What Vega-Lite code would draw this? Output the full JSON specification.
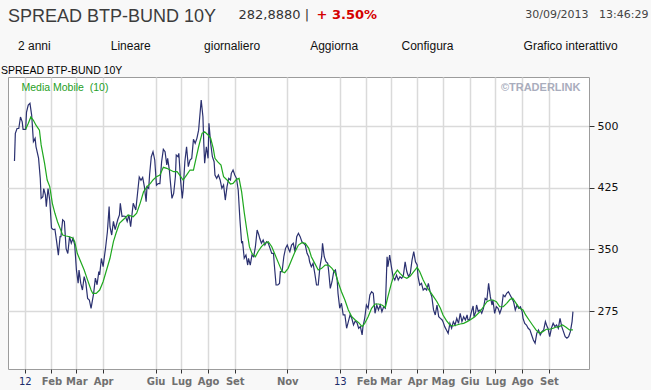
{
"$schema": "https://vega.github.io/schema/vega-lite/v6.json",
"width": 581, "height": 292,
"autosize": "none",
"padding": {"left": 8, "top": 77, "right": 62, "bottom": 21},
"background": "#f8f8f8",
"title": {
  "text": "SPREAD BTP-BUND 10Y",
  "subtitle": "\u200b\u00a0\u00a0\u00a02 anni\u00a0\u00a0\u00a0\u00a0\u00a0\u00a0\u00a0\u00a0\u00a0\u00a0\u00a0\u00a0\u00a0\u00a0\u00a0\u00a0\u00a0\u00a0Lineare\u00a0\u00a0\u00a0\u00a0\u00a0\u00a0\u00a0\u00a0\u00a0\u00a0\u00a0\u00a0\u00a0\u00a0\u00a0\u00a0giornaliero\u00a0\u00a0\u00a0\u00a0\u00a0\u00a0\u00a0\u00a0\u00a0\u00a0\u00a0\u00a0\u00a0\u00a0\u00a0Aggiorna\u00a0\u00a0\u00a0\u00a0\u00a0\u00a0\u00a0\u00a0\u00a0\u00a0\u00a0\u00a0\u00a0Configura\u00a0\u00a0\u00a0\u00a0\u00a0\u00a0\u00a0\u00a0\u00a0\u00a0\u00a0\u00a0\u00a0\u00a0\u00a0\u00a0\u00a0\u00a0\u00a0\u00a0\u00a0Grafico interattivo",
  "anchor": "start", "frame": "group", "orient": "top",
  "font": "Liberation Sans", "fontSize": 18, "fontWeight": "normal", "color": "#3c3c3c",
  "subtitleFont": "Liberation Sans", "subtitleFontSize": 12, "subtitleColor": "#111111",
  "subtitlePadding": 15, "offset": -44
},
"datasets": {
"price": [
{"d":"2011-12-20","v":457.5},{"d":"2011-12-21","v":491},{"d":"2011-12-23","v":497},{"d":"2011-12-25","v":497},{"d":"2011-12-27","v":511},{"d":"2011-12-29","v":505},{"d":"2011-12-30","v":496},
{"d":"2012-01-02","v":496},{"d":"2012-01-03","v":517},{"d":"2012-01-05","v":525.5},{"d":"2012-01-07","v":527.6},{"d":"2012-01-09","v":513},{"d":"2012-01-11","v":481},{"d":"2012-01-13","v":485},{"d":"2012-01-14","v":475},{"d":"2012-01-17","v":461},{"d":"2012-01-19","v":436},{"d":"2012-01-20","v":412},{"d":"2012-01-22","v":414},{"d":"2012-01-23","v":424},{"d":"2012-01-25","v":416},{"d":"2012-01-26","v":402},{"d":"2012-01-28","v":424},{"d":"2012-01-30","v":410},
{"d":"2012-02-01","v":376},{"d":"2012-02-03","v":374},{"d":"2012-02-05","v":374.5},{"d":"2012-02-07","v":359.5},{"d":"2012-02-09","v":343},{"d":"2012-02-11","v":365.5},{"d":"2012-02-12","v":365.5},{"d":"2012-02-14","v":386},{"d":"2012-02-16","v":384},{"d":"2012-02-18","v":351},{"d":"2012-02-20","v":345},{"d":"2012-02-22","v":365.5},{"d":"2012-02-24","v":357.5},{"d":"2012-02-26","v":363.5},{"d":"2012-02-28","v":355.5},
{"d":"2012-03-01","v":325},{"d":"2012-03-03","v":309},{"d":"2012-03-04","v":325},{"d":"2012-03-06","v":309},{"d":"2012-03-08","v":300.6},{"d":"2012-03-10","v":317},{"d":"2012-03-12","v":309},{"d":"2012-03-14","v":290.5},{"d":"2012-03-16","v":288.5},{"d":"2012-03-18","v":278.4},{"d":"2012-03-21","v":296.6},{"d":"2012-03-23","v":315},{"d":"2012-03-25","v":307},{"d":"2012-03-27","v":323},{"d":"2012-03-28","v":319},{"d":"2012-03-30","v":339},
{"d":"2012-04-01","v":329},{"d":"2012-04-04","v":353},{"d":"2012-04-06","v":371.5},{"d":"2012-04-08","v":402},{"d":"2012-04-09","v":377.6},{"d":"2012-04-11","v":367.5},{"d":"2012-04-13","v":384},{"d":"2012-04-15","v":374},{"d":"2012-04-18","v":386},{"d":"2012-04-20","v":392},{"d":"2012-04-21","v":406},{"d":"2012-04-23","v":390},{"d":"2012-04-25","v":390.6},{"d":"2012-04-27","v":390},{"d":"2012-04-29","v":384},
{"d":"2012-05-01","v":392},{"d":"2012-05-03","v":377.6},{"d":"2012-05-06","v":406},{"d":"2012-05-09","v":398},{"d":"2012-05-11","v":418},{"d":"2012-05-13","v":438},{"d":"2012-05-15","v":434},{"d":"2012-05-17","v":437.6},{"d":"2012-05-19","v":426},{"d":"2012-05-21","v":408},{"d":"2012-05-22","v":426},{"d":"2012-05-24","v":424},{"d":"2012-05-25","v":440.4},{"d":"2012-05-27","v":462.7},{"d":"2012-05-29","v":468.8},{"d":"2012-05-31","v":458.7},
{"d":"2012-06-02","v":428},{"d":"2012-06-04","v":430},{"d":"2012-06-06","v":430},{"d":"2012-06-08","v":456.6},{"d":"2012-06-10","v":471.6},{"d":"2012-06-12","v":468.8},{"d":"2012-06-14","v":452.6},{"d":"2012-06-15","v":460.7},{"d":"2012-06-17","v":446.5},{"d":"2012-06-18","v":434.4},{"d":"2012-06-20","v":412},{"d":"2012-06-22","v":418},{"d":"2012-06-24","v":438.4},{"d":"2012-06-25","v":464.7},{"d":"2012-06-27","v":462.7},{"d":"2012-06-28","v":466.8},{"d":"2012-06-30","v":434.4},
{"d":"2012-07-02","v":412},{"d":"2012-07-03","v":422.2},{"d":"2012-07-05","v":456.6},{"d":"2012-07-07","v":474.8},{"d":"2012-07-09","v":450.6},{"d":"2012-07-11","v":458.7},{"d":"2012-07-13","v":460.7},{"d":"2012-07-15","v":483.8},{"d":"2012-07-17","v":479},{"d":"2012-07-19","v":485},{"d":"2012-07-21","v":495},{"d":"2012-07-23","v":519.4},{"d":"2012-07-24","v":531.6},{"d":"2012-07-26","v":511.3},{"d":"2012-07-27","v":479},{"d":"2012-07-28","v":454.7},{"d":"2012-07-30","v":474.8},
{"d":"2012-08-01","v":460.7},{"d":"2012-08-02","v":503.3},{"d":"2012-08-04","v":479},{"d":"2012-08-06","v":462.7},{"d":"2012-08-08","v":456.6},{"d":"2012-08-09","v":440.4},{"d":"2012-08-11","v":436.4},{"d":"2012-08-13","v":440.4},{"d":"2012-08-15","v":434.4},{"d":"2012-08-17","v":424.3},{"d":"2012-08-19","v":428.3},{"d":"2012-08-21","v":410},{"d":"2012-08-23","v":426.3},{"d":"2012-08-25","v":436.4},{"d":"2012-08-27","v":434.4},{"d":"2012-08-28","v":442.5},{"d":"2012-08-30","v":446.5},
{"d":"2012-09-01","v":440.4},{"d":"2012-09-03","v":436.4},{"d":"2012-09-05","v":422.2},{"d":"2012-09-07","v":386},{"d":"2012-09-09","v":357.4},{"d":"2012-09-10","v":360},{"d":"2012-09-12","v":339.2},{"d":"2012-09-14","v":343.2},{"d":"2012-09-16","v":331},{"d":"2012-09-17","v":339.2},{"d":"2012-09-19","v":331},{"d":"2012-09-21","v":343.2},{"d":"2012-09-23","v":341.1},{"d":"2012-09-25","v":353.3},{"d":"2012-09-27","v":373.6},{"d":"2012-09-29","v":367.5},{"d":"2012-09-30","v":363.5},
{"d":"2012-10-02","v":357.4},{"d":"2012-10-04","v":361.4},{"d":"2012-10-06","v":355.3},{"d":"2012-10-08","v":359.4},{"d":"2012-10-10","v":357.4},{"d":"2012-10-12","v":351.3},{"d":"2012-10-14","v":345.2},{"d":"2012-10-16","v":345.2},{"d":"2012-10-17","v":331},{"d":"2012-10-19","v":306.7},{"d":"2012-10-21","v":306.7},{"d":"2012-10-23","v":308.7},{"d":"2012-10-24","v":323},{"d":"2012-10-26","v":323},{"d":"2012-10-28","v":341.1},{"d":"2012-10-30","v":351.3},
{"d":"2012-11-01","v":355.3},{"d":"2012-11-03","v":349.3},{"d":"2012-11-04","v":347.2},{"d":"2012-11-06","v":355.3},{"d":"2012-11-08","v":357.4},{"d":"2012-11-10","v":347.2},{"d":"2012-11-12","v":365.5},{"d":"2012-11-14","v":369.6},{"d":"2012-11-16","v":365.5},{"d":"2012-11-18","v":359.4},{"d":"2012-11-20","v":357.4},{"d":"2012-11-22","v":355.3},{"d":"2012-11-24","v":345.2},{"d":"2012-11-26","v":341.1},{"d":"2012-11-27","v":335},{"d":"2012-11-29","v":329},
{"d":"2012-12-01","v":333},{"d":"2012-12-03","v":320.9},{"d":"2012-12-05","v":306.7},{"d":"2012-12-07","v":306.7},{"d":"2012-12-09","v":329},{"d":"2012-12-11","v":341.1},{"d":"2012-12-12","v":357.4},{"d":"2012-12-14","v":341.1},{"d":"2012-12-16","v":335},{"d":"2012-12-18","v":333},{"d":"2012-12-19","v":324.9},{"d":"2012-12-21","v":302.6},{"d":"2012-12-23","v":310.7},{"d":"2012-12-25","v":323},{"d":"2012-12-27","v":324.9},{"d":"2012-12-29","v":312.7},{"d":"2012-12-30","v":296.6},
{"d":"2013-01-01","v":278.4},{"d":"2013-01-03","v":284.5},{"d":"2013-01-05","v":270.3},{"d":"2013-01-07","v":270.3},{"d":"2013-01-09","v":254.1},{"d":"2013-01-11","v":262.2},{"d":"2013-01-13","v":270.3},{"d":"2013-01-15","v":266.2},{"d":"2013-01-17","v":258.1},{"d":"2013-01-19","v":263},{"d":"2013-01-21","v":261},{"d":"2013-01-23","v":254.1},{"d":"2013-01-25","v":256.1},{"d":"2013-01-27","v":246},{"d":"2013-01-28","v":256.1},{"d":"2013-01-30","v":266.2},
{"d":"2013-02-01","v":282.4},{"d":"2013-02-03","v":278.4},{"d":"2013-02-05","v":294.6},{"d":"2013-02-07","v":298.6},{"d":"2013-02-09","v":296.6},{"d":"2013-02-11","v":272.3},{"d":"2013-02-13","v":282.4},{"d":"2013-02-15","v":276.4},{"d":"2013-02-17","v":282.4},{"d":"2013-02-19","v":274.2},{"d":"2013-02-21","v":280.3},{"d":"2013-02-23","v":278.4},{"d":"2013-02-25","v":341.1},{"d":"2013-02-26","v":329},{"d":"2013-02-28","v":343.2},
{"d":"2013-03-02","v":329},{"d":"2013-03-04","v":316.8},{"d":"2013-03-06","v":312.7},{"d":"2013-03-08","v":318.8},{"d":"2013-03-10","v":312.7},{"d":"2013-03-12","v":316.8},{"d":"2013-03-14","v":314.8},{"d":"2013-03-16","v":318.8},{"d":"2013-03-18","v":334.9},{"d":"2013-03-20","v":322.8},{"d":"2013-03-22","v":316.8},{"d":"2013-03-24","v":320.9},{"d":"2013-03-26","v":337},{"d":"2013-03-28","v":347.2},{"d":"2013-03-30","v":334.9},
{"d":"2013-04-01","v":331},{"d":"2013-04-02","v":316.8},{"d":"2013-04-04","v":306.7},{"d":"2013-04-06","v":308.7},{"d":"2013-04-08","v":300.6},{"d":"2013-04-10","v":302.6},{"d":"2013-04-12","v":300.6},{"d":"2013-04-14","v":308.7},{"d":"2013-04-16","v":298.6},{"d":"2013-04-18","v":292.5},{"d":"2013-04-20","v":276.4},{"d":"2013-04-22","v":270.3},{"d":"2013-04-24","v":282.4},{"d":"2013-04-26","v":268.2},{"d":"2013-04-28","v":266.2},{"d":"2013-04-30","v":264.2},
{"d":"2013-05-01","v":262.2},{"d":"2013-05-03","v":256.1},{"d":"2013-05-05","v":252.1},{"d":"2013-05-07","v":248},{"d":"2013-05-09","v":260.1},{"d":"2013-05-11","v":254.1},{"d":"2013-05-13","v":262.2},{"d":"2013-05-15","v":258.1},{"d":"2013-05-17","v":266.2},{"d":"2013-05-19","v":260.1},{"d":"2013-05-21","v":272.3},{"d":"2013-05-23","v":262.2},{"d":"2013-05-25","v":268.2},{"d":"2013-05-27","v":264.2},{"d":"2013-05-29","v":270.3},{"d":"2013-05-30","v":264.2},
{"d":"2013-06-01","v":265},{"d":"2013-06-03","v":274},{"d":"2013-06-05","v":281.2},{"d":"2013-06-06","v":268.2},{"d":"2013-06-08","v":274.3},{"d":"2013-06-09","v":282.4},{"d":"2013-06-11","v":274.3},{"d":"2013-06-13","v":276.4},{"d":"2013-06-15","v":272.3},{"d":"2013-06-17","v":278.4},{"d":"2013-06-19","v":290.5},{"d":"2013-06-21","v":288.5},{"d":"2013-06-23","v":308.7},{"d":"2013-06-25","v":292.5},{"d":"2013-06-27","v":282.4},{"d":"2013-06-28","v":288.5},{"d":"2013-06-30","v":272.3},
{"d":"2013-07-02","v":280.3},{"d":"2013-07-04","v":278.4},{"d":"2013-07-06","v":272.3},{"d":"2013-07-08","v":278.4},{"d":"2013-07-10","v":294.6},{"d":"2013-07-12","v":292.5},{"d":"2013-07-14","v":296.6},{"d":"2013-07-16","v":298.6},{"d":"2013-07-18","v":294.6},{"d":"2013-07-20","v":290.5},{"d":"2013-07-22","v":286.4},{"d":"2013-07-24","v":276.4},{"d":"2013-07-26","v":282.4},{"d":"2013-07-28","v":278.4},{"d":"2013-07-30","v":280.3},
{"d":"2013-08-01","v":274.3},{"d":"2013-08-02","v":266.2},{"d":"2013-08-04","v":260.1},{"d":"2013-08-06","v":258.1},{"d":"2013-08-08","v":254.1},{"d":"2013-08-10","v":252.1},{"d":"2013-08-12","v":246},{"d":"2013-08-14","v":239.9},{"d":"2013-08-16","v":235.9},{"d":"2013-08-18","v":248},{"d":"2013-08-20","v":252.1},{"d":"2013-08-22","v":246},{"d":"2013-08-24","v":250},{"d":"2013-08-26","v":252.1},{"d":"2013-08-28","v":262.2},{"d":"2013-08-30","v":256.1},{"d":"2013-08-31","v":254.1},
{"d":"2013-09-02","v":244},{"d":"2013-09-04","v":254.1},{"d":"2013-09-06","v":260.1},{"d":"2013-09-08","v":256.1},{"d":"2013-09-10","v":258.1},{"d":"2013-09-12","v":254.1},{"d":"2013-09-14","v":266.2},{"d":"2013-09-16","v":256.1},{"d":"2013-09-18","v":250},{"d":"2013-09-20","v":244},{"d":"2013-09-22","v":242},{"d":"2013-09-24","v":244},{"d":"2013-09-26","v":250},{"d":"2013-09-28","v":262.2},{"d":"2013-09-29","v":274.3}
],
"ma": [
{"d":"2012-01-02","v":496},{"d":"2012-01-05","v":503},{"d":"2012-01-08","v":511},{"d":"2012-01-11","v":507},{"d":"2012-01-14","v":501},{"d":"2012-01-18","v":495},{"d":"2012-01-20","v":477},{"d":"2012-01-24","v":454.7},{"d":"2012-01-27","v":434.4},{"d":"2012-01-30","v":426.3},
{"d":"2012-02-02","v":406},{"d":"2012-02-05","v":393.9},{"d":"2012-02-08","v":383.7},{"d":"2012-02-11","v":375.6},{"d":"2012-02-14","v":367.5},{"d":"2012-02-18","v":366.3},{"d":"2012-02-22","v":365.4},{"d":"2012-02-26","v":363.5},{"d":"2012-02-28","v":359.4},
{"d":"2012-03-02","v":345.2},{"d":"2012-03-06","v":335},{"d":"2012-03-10","v":325},{"d":"2012-03-14","v":312.7},{"d":"2012-03-18","v":300.6},{"d":"2012-03-20","v":296.5},{"d":"2012-03-24","v":296.5},{"d":"2012-03-28","v":300.6},
{"d":"2012-04-01","v":310.7},{"d":"2012-04-05","v":325},{"d":"2012-04-09","v":339.2},{"d":"2012-04-13","v":359.4},{"d":"2012-04-16","v":369.6},{"d":"2012-04-20","v":381.7},{"d":"2012-04-24","v":385.7},{"d":"2012-04-28","v":389.7},{"d":"2012-04-30","v":391.8},
{"d":"2012-05-06","v":389.7},{"d":"2012-05-10","v":393.9},{"d":"2012-05-14","v":406},{"d":"2012-05-18","v":420.1},{"d":"2012-05-22","v":426.3},{"d":"2012-05-26","v":430.3},{"d":"2012-05-29","v":434.4},
{"d":"2012-06-02","v":438.4},{"d":"2012-06-06","v":440.4},{"d":"2012-06-10","v":449.8},{"d":"2012-06-14","v":448.6},{"d":"2012-06-18","v":446.5},{"d":"2012-06-22","v":444.5},{"d":"2012-06-26","v":444.5},{"d":"2012-06-29","v":440.4},
{"d":"2012-07-03","v":434.4},{"d":"2012-07-07","v":440.4},{"d":"2012-07-11","v":446.5},{"d":"2012-07-15","v":446.5},{"d":"2012-07-18","v":460.7},{"d":"2012-07-21","v":474.8},{"d":"2012-07-25","v":491.1},{"d":"2012-07-28","v":493.1},
{"d":"2012-08-01","v":489.1},{"d":"2012-08-04","v":485},{"d":"2012-08-07","v":472.9},{"d":"2012-08-09","v":460.7},{"d":"2012-08-12","v":456.6},{"d":"2012-08-16","v":452.6},{"d":"2012-08-19","v":438.4},{"d":"2012-08-23","v":434.4},{"d":"2012-08-27","v":429.5},{"d":"2012-08-30","v":430.3},
{"d":"2012-09-03","v":435.2},{"d":"2012-09-06","v":436.4},{"d":"2012-09-09","v":420},{"d":"2012-09-12","v":395},{"d":"2012-09-15","v":373.6},{"d":"2012-09-18","v":353.3},{"d":"2012-09-21","v":345.2},{"d":"2012-09-25","v":341.1},{"d":"2012-09-28","v":347.2},
{"d":"2012-10-02","v":353.3},{"d":"2012-10-06","v":357.4},{"d":"2012-10-10","v":359.4},{"d":"2012-10-14","v":353.3},{"d":"2012-10-18","v":343.2},{"d":"2012-10-22","v":333},{"d":"2012-10-26","v":323},{"d":"2012-10-29","v":321.7},
{"d":"2012-11-02","v":327},{"d":"2012-11-06","v":337.1},{"d":"2012-11-10","v":347.2},{"d":"2012-11-14","v":355.3},{"d":"2012-11-18","v":358.2},{"d":"2012-11-22","v":357.4},{"d":"2012-11-26","v":351.3},{"d":"2012-11-29","v":341.1},
{"d":"2012-12-03","v":333},{"d":"2012-12-07","v":324.9},{"d":"2012-12-11","v":327},{"d":"2012-12-15","v":331},{"d":"2012-12-19","v":331},{"d":"2012-12-23","v":327},{"d":"2012-12-27","v":320.9},{"d":"2012-12-30","v":310.7},
{"d":"2013-01-03","v":298.6},{"d":"2013-01-07","v":288.5},{"d":"2013-01-11","v":276.4},{"d":"2013-01-15","v":268.2},{"d":"2013-01-19","v":264.2},{"d":"2013-01-23","v":261},{"d":"2013-01-27","v":256.1},{"d":"2013-01-30","v":260.1},
{"d":"2013-02-03","v":268.2},{"d":"2013-02-07","v":278.4},{"d":"2013-02-11","v":283.6},{"d":"2013-02-15","v":283.6},{"d":"2013-02-19","v":282.4},{"d":"2013-02-23","v":279.5},{"d":"2013-02-26","v":292.5},
{"d":"2013-03-02","v":308.7},{"d":"2013-03-05","v":318.8},{"d":"2013-03-09","v":324.9},{"d":"2013-03-12","v":320.9},{"d":"2013-03-16","v":316.8},{"d":"2013-03-20","v":314.8},{"d":"2013-03-24","v":317.6},{"d":"2013-03-28","v":322.9},
{"d":"2013-04-01","v":328.2},{"d":"2013-04-04","v":322.9},{"d":"2013-04-08","v":312.7},{"d":"2013-04-12","v":304.6},{"d":"2013-04-16","v":298.6},{"d":"2013-04-20","v":292.5},{"d":"2013-04-24","v":286.4},{"d":"2013-04-28","v":278.4},
{"d":"2013-05-01","v":270.3},{"d":"2013-05-05","v":263.4},{"d":"2013-05-09","v":258.1},{"d":"2013-05-13","v":256.9},{"d":"2013-05-17","v":258.1},{"d":"2013-05-21","v":259.3},{"d":"2013-05-25","v":260.1},{"d":"2013-05-29","v":262.2},
{"d":"2013-06-01","v":263.8},{"d":"2013-06-07","v":268.2},{"d":"2013-06-13","v":274.3},{"d":"2013-06-17","v":280.3},{"d":"2013-06-21","v":286.4},{"d":"2013-06-25","v":288.5},{"d":"2013-06-28","v":288.5},
{"d":"2013-07-02","v":286.4},{"d":"2013-07-06","v":280.3},{"d":"2013-07-10","v":280.3},{"d":"2013-07-14","v":284.4},{"d":"2013-07-18","v":289.3},{"d":"2013-07-21","v":290.5},{"d":"2013-07-25","v":284.4},{"d":"2013-07-29","v":278.4},
{"d":"2013-08-02","v":276.4},{"d":"2013-08-05","v":270.3},{"d":"2013-08-09","v":264.2},{"d":"2013-08-13","v":258.1},{"d":"2013-08-17","v":252.1},{"d":"2013-08-21","v":248},{"d":"2013-08-25","v":250},{"d":"2013-08-29","v":252.9},
{"d":"2013-09-02","v":252.9},{"d":"2013-09-06","v":254.1},{"d":"2013-09-09","v":255.4},{"d":"2013-09-13","v":256.1},{"d":"2013-09-17","v":258.1},{"d":"2013-09-21","v":255.4},{"d":"2013-09-25","v":252.1},{"d":"2013-09-29","v":252.1}
]
},
"layer": [
{
  "data": {"name": "price"},
  "mark": {"type": "line", "color": "#2b3170", "strokeWidth": 1.2},
  "encoding": {
    "x": {"field": "d", "type": "temporal",
      "scale": {"type": "utc", "domain": [{"year": 2011, "month": 12, "date": 12, "hours": 11, "minutes": 30, "utc": true}, {"year": 2013, "month": 10, "date": 17, "hours": 16, "utc": true}]},
      "axis": {"orient": "bottom",
        "values": [
          {"year": 2012, "month": 1, "date": 1, "utc": true}, {"year": 2012, "month": 2, "date": 1, "utc": true}, {"year": 2012, "month": 3, "date": 1, "utc": true}, {"year": 2012, "month": 4, "date": 1, "utc": true},
          {"year": 2012, "month": 6, "date": 1, "utc": true}, {"year": 2012, "month": 7, "date": 1, "utc": true}, {"year": 2012, "month": 8, "date": 1, "utc": true}, {"year": 2012, "month": 9, "date": 1, "utc": true},
          {"year": 2012, "month": 11, "date": 1, "utc": true}, {"year": 2013, "month": 1, "date": 1, "utc": true}, {"year": 2013, "month": 2, "date": 1, "utc": true}, {"year": 2013, "month": 3, "date": 1, "utc": true},
          {"year": 2013, "month": 4, "date": 1, "utc": true}, {"year": 2013, "month": 5, "date": 1, "utc": true}, {"year": 2013, "month": 6, "date": 1, "utc": true}, {"year": 2013, "month": 7, "date": 1, "utc": true},
          {"year": 2013, "month": 8, "date": 1, "utc": true}, {"year": 2013, "month": 9, "date": 1, "utc": true}
        ],
        "labelExpr": "utcmonth(datum.value) == 0 ? utcFormat(datum.value, '%y') : ['Gen','Feb','Mar','Apr','Mag','Giu','Lug','Ago','Set','Ott','Nov','Dic'][utcmonth(datum.value)]",
        "labelColor": {"condition": {"test": "utcmonth(datum.value) == 0", "value": "#1c2b6b"}, "value": "#707070"},
        "labelFontWeight": {"condition": {"test": "utcmonth(datum.value) == 0", "value": "normal"}, "value": "bold"},
        "labelFont": "DejaVu Sans", "labelFontSize": 10, "labelPadding": 3,
        "labelFlush": false, "labelOverlap": false,
        "tickSize": 4, "tickColor": "#333333", "domain": false,
        "grid": true, "gridColor": "#dadada", "gridWidth": 1.5,
        "title": "30/09/2013\u00a0\u00a0\u00a013:46:29", "titleX": 640, "titleY": -355, "titleAlign": "right", "titleBaseline": "middle",
        "titleFont": "DejaVu Sans", "titleFontSize": 11, "titleFontWeight": "normal", "titleColor": "#444444"
      }
    },
    "y": {"field": "v", "type": "quantitative",
      "scale": {"domain": [204.6, 559.6], "nice": false, "zero": false},
      "axis": {"orient": "right", "values": [275, 350, 425, 500],
        "labelFont": "DejaVu Sans", "labelFontSize": 11, "labelColor": "#111111", "labelPadding": 3,
        "tickSize": 5, "tickColor": "#333333", "domain": false,
        "grid": true, "gridColor": "#dadada", "gridWidth": 1.5,
        "title": "©TRADERLINK", "titleAngle": 0, "titleX": -9, "titleY": 10, "titleAlign": "right", "titleBaseline": "middle",
        "titleFont": "Liberation Sans", "titleFontSize": 11, "titleFontWeight": "bold", "titleColor": "#a9adbd"
      }
    }
  }
},
{
  "data": {"name": "ma"},
  "mark": {"type": "line", "strokeWidth": 1.2},
  "encoding": {
    "x": {"field": "d", "type": "temporal",
      "axis": {"orient": "top", "labels": false, "ticks": false, "domain": false, "grid": false,
        "title": "282,8880\u00a0|", "titleX": 230, "titleY": -63, "titleAlign": "left", "titleBaseline": "middle",
        "titleFont": "DejaVu Sans", "titleFontSize": 13, "titleFontWeight": "normal", "titleColor": "#333333"}
    },
    "y": {"field": "v", "type": "quantitative",
      "axis": {"orient": "left", "labels": false, "ticks": false, "domain": false, "grid": false,
        "title": "+ 3.50%", "titleAngle": 0, "titleX": 308, "titleY": -63, "titleAlign": "left", "titleBaseline": "middle",
        "titleFont": "DejaVu Sans", "titleFontSize": 13, "titleFontWeight": "bold", "titleColor": "#d40000"}
    },
    "color": {"datum": "Media Mobile\u00a0\u00a0(10)", "scale": {"range": ["#1fa81f"]},
      "legend": {"orient": "none", "legendX": -7, "legendY": -11, "padding": 0,
        "title": "SPREAD BTP-BUND 10Y", "titleFont": "Liberation Sans", "titleFontSize": 10.5, "titleFontWeight": "normal", "titleColor": "#000000", "titlePadding": 6,
        "labelFont": "Liberation Sans", "labelFontSize": 10.5, "labelColor": "#1fa01f",
        "symbolSize": 0, "symbolOpacity": 0, "symbolStrokeWidth": 0, "labelOffset": 10}
    }
  }
}
],
"resolve": {"axis": {"x": "independent", "y": "independent"}},
"config": {"view": {"stroke": "#9c9c9c", "fill": "#ffffff"}}
}
